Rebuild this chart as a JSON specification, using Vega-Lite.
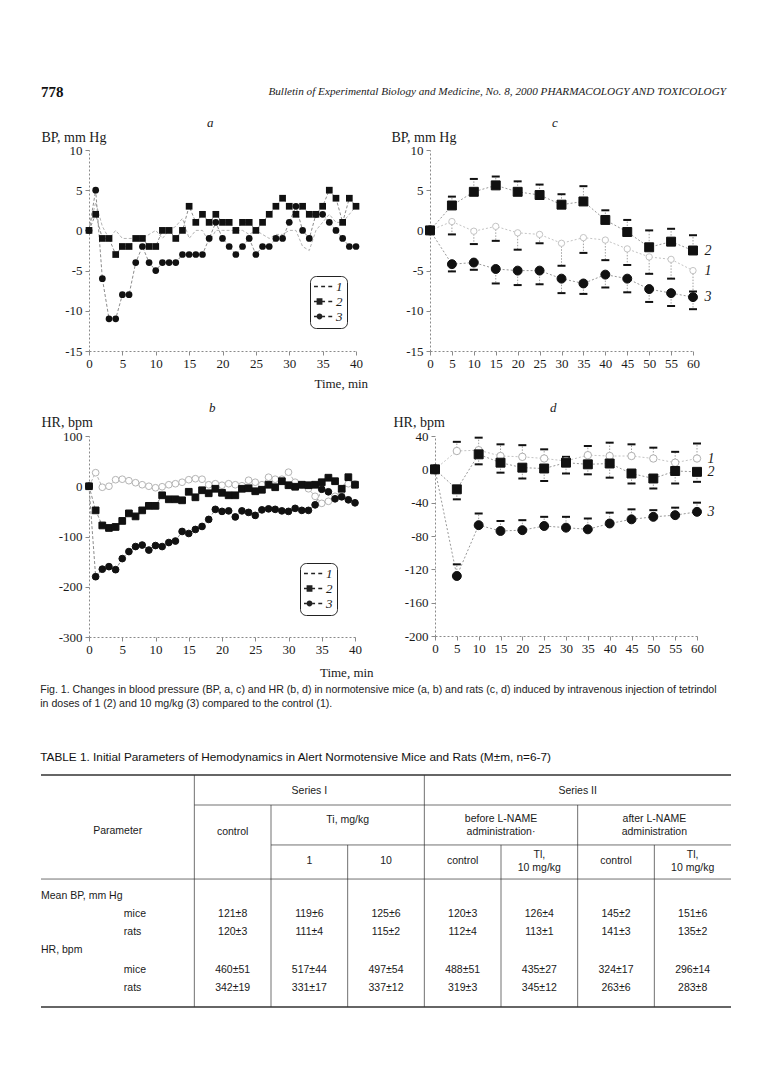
{
"$schema": "https://vega.github.io/schema/vega-lite/v6.json",
"background": "white",
"padding": {"left": 40, "top": 85, "right": 5, "bottom": 5},
"config": {
 "view": {"stroke": null},
 "axis": {"labelFont": "Liberation Serif", "labelFontSize": 13, "labelColor": "#1a1a1a", "domainColor": "#8a8a8a", "domainDash": [2, 2], "tickColor": "#8a8a8a", "tickSize": 4, "labelPadding": 2, "grid": false, "titleFont": "Liberation Serif", "titleFontSize": 14, "titleFontWeight": "normal", "titleColor": "#1a1a1a"},
 "axisY": {"titleAngle": 0, "titleAlign": "left", "titleBaseline": "alphabetic", "labelPadding": 3, "labelExpr": "replace(datum.label, '\u2212', '-')"},
 "axisX": {"labelFlush": false, "labelOverlap": false},
 "title": {"font": "Liberation Serif", "fontWeight": "normal", "color": "#1a1a1a"}
},
"datasets": {
 "a": [
  {"t":0,"s":"1","v":0},{"t":1,"s":"1","v":3.5},{"t":2,"s":"1","v":0.5},{"t":3,"s":"1","v":-1},{"t":4,"s":"1","v":0},{"t":5,"s":"1","v":-1},{"t":6,"s":"1","v":-1},{"t":7,"s":"1","v":-1},{"t":8,"s":"1","v":-1},{"t":9,"s":"1","v":-0.5},{"t":10,"s":"1","v":0},{"t":11,"s":"1","v":-1},{"t":12,"s":"1","v":0},{"t":13,"s":"1","v":0.5},{"t":14,"s":"1","v":1.5},{"t":15,"s":"1","v":-1},{"t":16,"s":"1","v":0},{"t":17,"s":"1","v":0},{"t":18,"s":"1","v":-1.5},{"t":19,"s":"1","v":0},{"t":20,"s":"1","v":0},{"t":21,"s":"1","v":0},{"t":22,"s":"1","v":0},{"t":23,"s":"1","v":0},{"t":24,"s":"1","v":-0.5},{"t":25,"s":"1","v":0},{"t":26,"s":"1","v":-0.5},{"t":27,"s":"1","v":-1},{"t":28,"s":"1","v":-0.5},{"t":29,"s":"1","v":-0.5},{"t":30,"s":"1","v":0},{"t":31,"s":"1","v":0},{"t":32,"s":"1","v":-2},{"t":33,"s":"1","v":-2.5},{"t":34,"s":"1","v":0},{"t":35,"s":"1","v":1},{"t":36,"s":"1","v":2},{"t":37,"s":"1","v":1},{"t":38,"s":"1","v":1},{"t":39,"s":"1","v":2},{"t":40,"s":"1","v":3},
  {"t":0,"s":"2","v":0},{"t":1,"s":"2","v":2},{"t":2,"s":"2","v":-1},{"t":3,"s":"2","v":-1},{"t":4,"s":"2","v":-3},{"t":5,"s":"2","v":-2},{"t":6,"s":"2","v":-2},{"t":7,"s":"2","v":-1},{"t":8,"s":"2","v":-1},{"t":9,"s":"2","v":-2},{"t":10,"s":"2","v":-2},{"t":11,"s":"2","v":0},{"t":12,"s":"2","v":0},{"t":13,"s":"2","v":-1},{"t":14,"s":"2","v":0},{"t":15,"s":"2","v":3},{"t":16,"s":"2","v":1},{"t":17,"s":"2","v":2},{"t":18,"s":"2","v":1},{"t":19,"s":"2","v":2},{"t":20,"s":"2","v":1},{"t":21,"s":"2","v":1},{"t":22,"s":"2","v":0},{"t":23,"s":"2","v":1},{"t":24,"s":"2","v":1},{"t":25,"s":"2","v":0},{"t":26,"s":"2","v":1},{"t":27,"s":"2","v":2},{"t":28,"s":"2","v":3},{"t":29,"s":"2","v":4},{"t":30,"s":"2","v":3},{"t":31,"s":"2","v":2},{"t":32,"s":"2","v":3},{"t":33,"s":"2","v":2},{"t":34,"s":"2","v":2},{"t":35,"s":"2","v":3},{"t":36,"s":"2","v":5},{"t":37,"s":"2","v":4},{"t":38,"s":"2","v":1},{"t":39,"s":"2","v":4},{"t":40,"s":"2","v":3},
  {"t":0,"s":"3","v":0},{"t":1,"s":"3","v":5},{"t":2,"s":"3","v":-6},{"t":3,"s":"3","v":-11},{"t":4,"s":"3","v":-11},{"t":5,"s":"3","v":-8},{"t":6,"s":"3","v":-8},{"t":7,"s":"3","v":-4},{"t":8,"s":"3","v":-2},{"t":9,"s":"3","v":-4},{"t":10,"s":"3","v":-5},{"t":11,"s":"3","v":-4},{"t":12,"s":"3","v":-4},{"t":13,"s":"3","v":-4},{"t":14,"s":"3","v":-3},{"t":15,"s":"3","v":-3},{"t":16,"s":"3","v":-3},{"t":17,"s":"3","v":-3},{"t":18,"s":"3","v":-1},{"t":19,"s":"3","v":1},{"t":20,"s":"3","v":-1},{"t":21,"s":"3","v":-2},{"t":22,"s":"3","v":-3},{"t":23,"s":"3","v":-2},{"t":24,"s":"3","v":-1},{"t":25,"s":"3","v":-3},{"t":26,"s":"3","v":-2},{"t":27,"s":"3","v":-2},{"t":28,"s":"3","v":-1},{"t":29,"s":"3","v":-1},{"t":30,"s":"3","v":1},{"t":31,"s":"3","v":3},{"t":32,"s":"3","v":0},{"t":33,"s":"3","v":-1},{"t":34,"s":"3","v":2},{"t":35,"s":"3","v":2},{"t":36,"s":"3","v":1},{"t":37,"s":"3","v":0},{"t":38,"s":"3","v":-1},{"t":39,"s":"3","v":-2},{"t":40,"s":"3","v":-2}
 ],
 "b": [
  {"t":0,"s":"1","v":0},{"t":1,"s":"1","v":27},{"t":2,"s":"1","v":-2},{"t":3,"s":"1","v":0},{"t":4,"s":"1","v":13},{"t":5,"s":"1","v":14},{"t":6,"s":"1","v":11},{"t":7,"s":"1","v":7},{"t":8,"s":"1","v":3},{"t":9,"s":"1","v":0},{"t":10,"s":"1","v":-3},{"t":11,"s":"1","v":-1},{"t":12,"s":"1","v":3},{"t":13,"s":"1","v":5},{"t":14,"s":"1","v":8},{"t":15,"s":"1","v":13},{"t":16,"s":"1","v":15},{"t":17,"s":"1","v":14},{"t":18,"s":"1","v":3},{"t":19,"s":"1","v":5},{"t":20,"s":"1","v":2},{"t":21,"s":"1","v":5},{"t":22,"s":"1","v":3},{"t":23,"s":"1","v":1},{"t":24,"s":"1","v":12},{"t":25,"s":"1","v":8},{"t":26,"s":"1","v":3},{"t":27,"s":"1","v":18},{"t":28,"s":"1","v":14},{"t":29,"s":"1","v":14},{"t":30,"s":"1","v":28},{"t":31,"s":"1","v":8},{"t":32,"s":"1","v":2},{"t":33,"s":"1","v":-5},{"t":34,"s":"1","v":-20},{"t":35,"s":"1","v":-34},{"t":36,"s":"1","v":-30},{"t":37,"s":"1","v":-20},{"t":38,"s":"1","v":-10},{"t":39,"s":"1","v":5},{"t":40,"s":"1","v":5},
  {"t":0,"s":"2","v":0},{"t":1,"s":"2","v":-48},{"t":2,"s":"2","v":-78},{"t":3,"s":"2","v":-83},{"t":4,"s":"2","v":-81},{"t":5,"s":"2","v":-69},{"t":6,"s":"2","v":-54},{"t":7,"s":"2","v":-60},{"t":8,"s":"2","v":-48},{"t":9,"s":"2","v":-39},{"t":10,"s":"2","v":-39},{"t":11,"s":"2","v":-18},{"t":12,"s":"2","v":-26},{"t":13,"s":"2","v":-26},{"t":14,"s":"2","v":-28},{"t":15,"s":"2","v":-11},{"t":16,"s":"2","v":-22},{"t":17,"s":"2","v":-8},{"t":18,"s":"2","v":-14},{"t":19,"s":"2","v":-5},{"t":20,"s":"2","v":-13},{"t":21,"s":"2","v":-18},{"t":22,"s":"2","v":-18},{"t":23,"s":"2","v":-5},{"t":24,"s":"2","v":-4},{"t":25,"s":"2","v":-10},{"t":26,"s":"2","v":-7},{"t":27,"s":"2","v":3},{"t":28,"s":"2","v":-2},{"t":29,"s":"2","v":10},{"t":30,"s":"2","v":2},{"t":31,"s":"2","v":-1},{"t":32,"s":"2","v":3},{"t":33,"s":"2","v":2},{"t":34,"s":"2","v":3},{"t":35,"s":"2","v":8},{"t":36,"s":"2","v":17},{"t":37,"s":"2","v":10},{"t":38,"s":"2","v":-5},{"t":39,"s":"2","v":18},{"t":40,"s":"2","v":3},
  {"t":0,"s":"3","v":0},{"t":1,"s":"3","v":-180},{"t":2,"s":"3","v":-165},{"t":3,"s":"3","v":-160},{"t":4,"s":"3","v":-166},{"t":5,"s":"3","v":-144},{"t":6,"s":"3","v":-130},{"t":7,"s":"3","v":-120},{"t":8,"s":"3","v":-117},{"t":9,"s":"3","v":-127},{"t":10,"s":"3","v":-118},{"t":11,"s":"3","v":-120},{"t":12,"s":"3","v":-112},{"t":13,"s":"3","v":-109},{"t":14,"s":"3","v":-90},{"t":15,"s":"3","v":-94},{"t":16,"s":"3","v":-86},{"t":17,"s":"3","v":-80},{"t":18,"s":"3","v":-66},{"t":19,"s":"3","v":-46},{"t":20,"s":"3","v":-50},{"t":21,"s":"3","v":-49},{"t":22,"s":"3","v":-61},{"t":23,"s":"3","v":-49},{"t":24,"s":"3","v":-52},{"t":25,"s":"3","v":-58},{"t":26,"s":"3","v":-47},{"t":27,"s":"3","v":-45},{"t":28,"s":"3","v":-46},{"t":29,"s":"3","v":-49},{"t":30,"s":"3","v":-50},{"t":31,"s":"3","v":-44},{"t":32,"s":"3","v":-48},{"t":33,"s":"3","v":-48},{"t":34,"s":"3","v":-37},{"t":35,"s":"3","v":-6},{"t":36,"s":"3","v":-11},{"t":37,"s":"3","v":-25},{"t":38,"s":"3","v":-21},{"t":39,"s":"3","v":-27},{"t":40,"s":"3","v":-33}
 ],
 "c": [
  {"t":0,"s":"1","v":0},{"t":5,"s":"1","v":1.1,"cap":-0.5},{"t":10,"s":"1","v":-0.1,"cap":-1.7},{"t":15,"s":"1","v":0.5,"cap":-1.3},{"t":20,"s":"1","v":-0.3,"cap":-2.4},{"t":25,"s":"1","v":-0.5,"cap":-1.6},{"t":30,"s":"1","v":-1.6,"cap":-4.4},{"t":35,"s":"1","v":-0.9,"cap":-2.8},{"t":40,"s":"1","v":-1.2,"cap":-3.7},{"t":45,"s":"1","v":-2.3,"cap":-4.3},{"t":50,"s":"1","v":-3.3,"cap":-5.4},{"t":55,"s":"1","v":-3.6,"cap":-6.0},{"t":60,"s":"1","v":-5.0,"cap":-7.6},
  {"t":0,"s":"2","v":0},{"t":5,"s":"2","v":3.1,"cap":4.2},{"t":10,"s":"2","v":4.8,"cap":6.4},{"t":15,"s":"2","v":5.6,"cap":6.7},{"t":20,"s":"2","v":4.8,"cap":6.1},{"t":25,"s":"2","v":4.4,"cap":5.7},{"t":30,"s":"2","v":3.2,"cap":4.5},{"t":35,"s":"2","v":3.6,"cap":5.5},{"t":40,"s":"2","v":1.3,"cap":2.5},{"t":45,"s":"2","v":-0.2,"cap":1.3},{"t":50,"s":"2","v":-2.1,"cap":0.0},{"t":55,"s":"2","v":-1.4,"cap":0.2},{"t":60,"s":"2","v":-2.5,"cap":-0.6},
  {"t":0,"s":"3","v":0},{"t":5,"s":"3","v":-4.2,"cap":-5.1},{"t":10,"s":"3","v":-4.0,"cap":-4.9},{"t":15,"s":"3","v":-4.8,"cap":-6.6},{"t":20,"s":"3","v":-5.0,"cap":-6.8},{"t":25,"s":"3","v":-5.0,"cap":-6.7},{"t":30,"s":"3","v":-6.0,"cap":-7.8},{"t":35,"s":"3","v":-6.6,"cap":-7.9},{"t":40,"s":"3","v":-5.5,"cap":-7.1},{"t":45,"s":"3","v":-6.0,"cap":-7.7},{"t":50,"s":"3","v":-7.3,"cap":-8.9},{"t":55,"s":"3","v":-7.8,"cap":-9.4},{"t":60,"s":"3","v":-8.3,"cap":-9.8}
 ],
 "d": [
  {"t":0,"s":"1","v":0},{"t":5,"s":"1","v":22,"cap":33},{"t":10,"s":"1","v":23,"cap":38},{"t":15,"s":"1","v":16,"cap":30},{"t":20,"s":"1","v":15,"cap":29},{"t":25,"s":"1","v":13,"cap":24},{"t":30,"s":"1","v":10,"cap":15},{"t":35,"s":"1","v":17,"cap":28},{"t":40,"s":"1","v":16,"cap":32},{"t":45,"s":"1","v":16,"cap":30},{"t":50,"s":"1","v":13,"cap":26},{"t":55,"s":"1","v":8,"cap":21},{"t":60,"s":"1","v":13,"cap":31},
  {"t":0,"s":"2","v":0},{"t":5,"s":"2","v":-24,"cap":-36},{"t":10,"s":"2","v":18,"cap":6},{"t":15,"s":"2","v":8,"cap":-4},{"t":20,"s":"2","v":2,"cap":-11},{"t":25,"s":"2","v":1,"cap":-14},{"t":30,"s":"2","v":8,"cap":-5},{"t":35,"s":"2","v":6,"cap":-6},{"t":40,"s":"2","v":7,"cap":-10},{"t":45,"s":"2","v":-5,"cap":-17},{"t":50,"s":"2","v":-11,"cap":-23},{"t":55,"s":"2","v":-2,"cap":-17},{"t":60,"s":"2","v":-3,"cap":-15},
  {"t":0,"s":"3","v":0},{"t":5,"s":"3","v":-128,"cap":-114},{"t":10,"s":"3","v":-67,"cap":-53},{"t":15,"s":"3","v":-74,"cap":-62},{"t":20,"s":"3","v":-73,"cap":-61},{"t":25,"s":"3","v":-68,"cap":-57},{"t":30,"s":"3","v":-70,"cap":-57},{"t":35,"s":"3","v":-72,"cap":-59},{"t":40,"s":"3","v":-65,"cap":-52},{"t":45,"s":"3","v":-60,"cap":-48},{"t":50,"s":"3","v":-57,"cap":-49},{"t":55,"s":"3","v":-55,"cap":-46},{"t":60,"s":"3","v":-51,"cap":-40}
 ],
 "tabletext": [
  {"x":3.5,"y":0.87,"label":"Series I","kind":"c"},
  {"x":7,"y":0.87,"label":"Series II","kind":"c"},
  {"x":4,"y":2.45,"label":"Ti, mg/kg","kind":"c"},
  {"x":6,"y":2.4,"label":"before L-NAME","kind":"c"},
  {"x":6,"y":3.1,"label":"administration·","kind":"c"},
  {"x":8,"y":2.4,"label":"after L-NAME","kind":"c"},
  {"x":8,"y":3.1,"label":"administration","kind":"c"},
  {"x":1,"y":3.05,"label":"Parameter","kind":"c"},
  {"x":2.5,"y":3.1,"label":"control","kind":"c"},
  {"x":3.5,"y":4.67,"label":"1","kind":"c"},
  {"x":4.5,"y":4.67,"label":"10","kind":"c"},
  {"x":5.5,"y":4.67,"label":"control","kind":"c"},
  {"x":6.5,"y":4.35,"label":"Tl,","kind":"c"},
  {"x":6.5,"y":5.05,"label":"10 mg/kg","kind":"c"},
  {"x":7.5,"y":4.67,"label":"control","kind":"c"},
  {"x":8.5,"y":4.35,"label":"Tl,","kind":"c"},
  {"x":8.5,"y":5.05,"label":"10 mg/kg","kind":"c"},
  {"x":0,"y":6.58,"label":"Mean BP, mm Hg","kind":"l"},
  {"x":1.08,"y":7.55,"label":"mice","kind":"l"},
  {"x":1.08,"y":8.53,"label":"rats","kind":"l"},
  {"x":0,"y":9.51,"label":"HR, bpm","kind":"l"},
  {"x":1.08,"y":10.6,"label":"mice","kind":"l"},
  {"x":1.08,"y":11.58,"label":"rats","kind":"l"},
  {"x":2.5,"y":7.55,"label":"121±8","kind":"c"},{"x":3.5,"y":7.55,"label":"119±6","kind":"c"},{"x":4.5,"y":7.55,"label":"125±6","kind":"c"},{"x":5.5,"y":7.55,"label":"120±3","kind":"c"},{"x":6.5,"y":7.55,"label":"126±4","kind":"c"},{"x":7.5,"y":7.55,"label":"145±2","kind":"c"},{"x":8.5,"y":7.55,"label":"151±6","kind":"c"},
  {"x":2.5,"y":8.53,"label":"120±3","kind":"c"},{"x":3.5,"y":8.53,"label":"111±4","kind":"c"},{"x":4.5,"y":8.53,"label":"115±2","kind":"c"},{"x":5.5,"y":8.53,"label":"112±4","kind":"c"},{"x":6.5,"y":8.53,"label":"113±1","kind":"c"},{"x":7.5,"y":8.53,"label":"141±3","kind":"c"},{"x":8.5,"y":8.53,"label":"135±2","kind":"c"},
  {"x":2.5,"y":10.6,"label":"460±51","kind":"c"},{"x":3.5,"y":10.6,"label":"517±44","kind":"c"},{"x":4.5,"y":10.6,"label":"497±54","kind":"c"},{"x":5.5,"y":10.6,"label":"488±51","kind":"c"},{"x":6.5,"y":10.6,"label":"435±27","kind":"c"},{"x":7.5,"y":10.6,"label":"324±17","kind":"c"},{"x":8.5,"y":10.6,"label":"296±14","kind":"c"},
  {"x":2.5,"y":11.58,"label":"342±19","kind":"c"},{"x":3.5,"y":11.58,"label":"331±17","kind":"c"},{"x":4.5,"y":11.58,"label":"337±12","kind":"c"},{"x":5.5,"y":11.58,"label":"319±3","kind":"c"},{"x":6.5,"y":11.58,"label":"345±12","kind":"c"},{"x":7.5,"y":11.58,"label":"263±6","kind":"c"},{"x":8.5,"y":11.58,"label":"283±8","kind":"c"}
 ],
 "tablerules": [
  {"x":0,"x2":9,"y":0,"y2":0},
  {"x":2,"x2":9,"y":1.63,"y2":1.63},
  {"x":3,"x2":9,"y":3.8,"y2":3.8},
  {"x":0,"x2":9,"y":5.65,"y2":5.65},
  {"x":0,"x2":9,"y":12.6,"y2":12.6},
  {"x":2,"x2":2,"y":0,"y2":12.6},
  {"x":3,"x2":3,"y":1.63,"y2":12.6},
  {"x":4,"x2":4,"y":3.8,"y2":12.6},
  {"x":5,"x2":5,"y":0,"y2":12.6},
  {"x":6,"x2":6,"y":3.8,"y2":12.6},
  {"x":7,"x2":7,"y":1.63,"y2":12.6},
  {"x":8,"x2":8,"y":3.8,"y2":12.6}
 ]
},
"spacing": 4,
"vconcat": [
 {
  "spacing": 17,
  "vconcat": [
   {
    "width": 690, "height": 14,
    "data": {"values": [{"side": "left", "txt": "778"}, {"side": "right", "txt": "Bulletin of Experimental Biology and Medicine, No. 8, 2000 PHARMACOLOGY AND TOXICOLOGY"}]},
    "encoding": {"x": {"field": "side", "type": "nominal", "scale": {"type": "point", "domain": ["left", "right"], "padding": 0}, "axis": null}, "text": {"field": "txt"}},
    "layer": [
     {"transform": [{"filter": "datum.side == 'left'"}], "mark": {"type": "text", "align": "left", "xOffset": -48, "font": "Liberation Serif", "fontWeight": "bold", "fontSize": 15, "color": "#111"}},
     {"transform": [{"filter": "datum.side == 'right'"}], "mark": {"type": "text", "align": "right", "xOffset": -53, "font": "Liberation Serif", "fontStyle": "italic", "fontSize": 11.2, "color": "#222"}}
    ]
   },
   {
    "spacing": 11,
    "vconcat": [
     {
      "resolve": {"scale": {"shape": "independent", "color": "independent"}, "legend": {"shape": "independent", "color": "independent"}},
      "hconcat": [
       {
        "width": 267, "height": 201,
        "title": {"text": "a", "anchor": "start", "frame": "group", "dx": 118, "fontStyle": "italic", "fontSize": 13, "offset": 0},
        "data": {"name": "a"},
        "encoding": {
         "x": {"field": "t", "type": "quantitative", "scale": {"domain": [0, 40], "nice": false}, "axis": {"values": [0,5,10,15,20,25,30,35,40], "title": null}},
         "y": {"field": "v", "type": "quantitative", "scale": {"domain": [-15, 10], "nice": false}, "axis": {"values": [-15,-10,-5,0,5,10], "title": "BP, mm Hg", "titleX": -48, "titleY": -9}}
        },
        "layer": [
         {"mark": {"type": "line", "strokeDash": [3, 2], "strokeWidth": 1}, "encoding": {"detail": {"field": "s"}, "color": {"condition": {"test": "datum.s == '1'", "value": "#b4b4b4"}, "value": "#8c8c8c"}}},
         {"transform": [{"filter": "datum.s != '1'"}], "mark": {"type": "point", "filled": true, "size": 45, "opacity": 1, "color": "#111"},
          "encoding": {"shape": {"condition": {"test": "datum.s == '2'", "value": "square"}, "value": "circle"}}},
         {"transform": [{"filter": "false"}], "mark": {"type": "point", "filled": true, "size": 169, "opacity": 1, "color": "#222"},
          "encoding": {"shape": {"field": "s", "type": "nominal", "scale": {"domain": ["1","2","3"], "range": ["M-1,-0.1H-0.4V0.1H-1ZM0.1,-0.1H0.7V0.1H0.1ZM1.2,-0.1H1.8V0.1H1.2Z", "M-1,-0.1H-0.6V0.1H-1ZM-0.6,-0.5H0.3V0.5H-0.6ZM0.3,-0.1H0.7V0.1H0.3ZM1.2,-0.1H1.8V0.1H1.2Z", "M-1,-0.1H-0.6V0.1H-1ZM-0.6,0A0.45,0.45 0 1,0 0.3,0A0.45,0.45 0 1,0 -0.6,0ZM0.3,-0.1H0.7V0.1H0.3ZM1.2,-0.1H1.8V0.1H1.2Z"]},
           "legend": {"orient": "none", "legendX": 221, "legendY": 126, "title": null, "strokeColor": "#222", "fillColor": "#fff", "cornerRadius": 6, "padding": 4, "labelFont": "Liberation Serif", "labelFontStyle": "italic", "labelFontSize": 13, "labelColor": "#1a1a1a", "symbolSize": 169, "symbolOpacity": 1, "symbolFillColor": "#222", "symbolStrokeWidth": 0, "rowPadding": 1, "labelOffset": 9}}}
         }
        ]
       },
       {
        "width": 263, "height": 201,
        "title": {"text": "c", "anchor": "start", "frame": "group", "dx": 122, "fontStyle": "italic", "fontSize": 13, "offset": 0},
        "data": {"name": "c"},
        "encoding": {
         "x": {"field": "t", "type": "quantitative", "scale": {"domain": [0, 60], "nice": false}, "axis": {"values": [0,5,10,15,20,25,30,35,40,45,50,55,60], "title": null}},
         "y": {"field": "v", "type": "quantitative", "scale": {"domain": [-15, 10], "nice": false}, "axis": {"values": [-15,-10,-5,0,5,10], "title": "BP, mm Hg", "titleX": -39, "titleY": -9}}
        },
        "layer": [
         {"mark": {"type": "line", "strokeDash": [2, 2], "strokeWidth": 1}, "encoding": {"detail": {"field": "s"}, "color": {"condition": {"test": "datum.s == '1'", "value": "#c4c4c4"}, "value": "#999999"}}},
         {"transform": [{"filter": "isValid(datum.cap)"}], "mark": {"type": "rule", "color": "#a0a0a0", "strokeDash": [1.5, 1.5], "strokeWidth": 1}, "encoding": {"y2": {"field": "cap"}}},
         {"transform": [{"filter": "isValid(datum.cap)"}], "mark": {"type": "tick", "orient": "horizontal", "size": 8, "thickness": 2, "color": "#111", "opacity": 1},
          "encoding": {"y": {"field": "cap", "type": "quantitative", "scale": {"domain": [-15, 10], "nice": false}, "axis": {"values": [-15,-10,-5,0,5,10], "title": "BP, mm Hg", "titleX": -39, "titleY": -9}}}},
         {"mark": {"type": "point", "filled": true, "opacity": 1, "strokeWidth": 1},
          "encoding": {
           "shape": {"condition": {"test": "datum.s == '2'", "value": "square"}, "value": "circle"},
           "fill": {"condition": {"test": "datum.s == '1'", "value": "#ffffff"}, "value": "#111"},
           "stroke": {"condition": {"test": "datum.s == '1'", "value": "#c4c4c4"}, "value": "#111"},
           "size": {"condition": {"test": "datum.s == '1'", "value": 40}, "value": 80}
          }},
         {"transform": [{"filter": "datum.t == 60"}], "mark": {"type": "text", "align": "center", "dx": 15, "font": "Liberation Serif", "fontStyle": "italic", "fontSize": 14, "color": "#1a1a1a"}, "encoding": {"text": {"field": "s"}}}
        ]
       }
      ],
      "spacing": 28,
      "title": {"text": "Time, min", "orient": "bottom", "anchor": "middle", "dx": -35, "offset": 8, "fontSize": 13}
     },
     {
      "resolve": {"scale": {"shape": "independent", "color": "independent"}, "legend": {"shape": "independent", "color": "independent"}},
      "hconcat": [
       {
        "width": 266, "height": 201,
        "title": {"text": "b", "anchor": "start", "frame": "group", "dx": 120, "fontStyle": "italic", "fontSize": 13, "offset": 0},
        "data": {"name": "b"},
        "encoding": {
         "x": {"field": "t", "type": "quantitative", "scale": {"domain": [0, 40], "nice": false}, "axis": {"values": [0,5,10,15,20,25,30,35,40], "title": null}},
         "y": {"field": "v", "type": "quantitative", "scale": {"domain": [-300, 100], "nice": false}, "axis": {"values": [-300,-200,-100,0,100], "title": "HR, bpm", "titleX": -48, "titleY": -10}}
        },
        "layer": [
         {"mark": {"type": "line", "strokeDash": [3, 2], "strokeWidth": 1}, "encoding": {"detail": {"field": "s"}, "color": {"condition": {"test": "datum.s == '1'", "value": "#b4b4b4"}, "value": "#8c8c8c"}}},
         {"mark": {"type": "point", "filled": true, "size": 45, "opacity": 1, "strokeWidth": 1},
          "encoding": {
           "fill": {"condition": {"test": "datum.s == '1'", "value": "#ffffff"}, "value": "#111"},
           "stroke": {"condition": {"test": "datum.s == '1'", "value": "#b4b4b4"}, "value": "#111"},
           "shape": {"condition": {"test": "datum.s == '2'", "value": "square"}, "value": "circle"}
          }
         },
         {"transform": [{"filter": "false"}], "mark": {"type": "point", "filled": true, "size": 169, "opacity": 1, "color": "#222"},
          "encoding": {"shape": {"field": "s", "type": "nominal", "scale": {"domain": ["1","2","3"], "range": ["M-1,-0.1H-0.4V0.1H-1ZM0.1,-0.1H0.7V0.1H0.1ZM1.2,-0.1H1.8V0.1H1.2Z", "M-1,-0.1H-0.6V0.1H-1ZM-0.6,-0.5H0.3V0.5H-0.6ZM0.3,-0.1H0.7V0.1H0.3ZM1.2,-0.1H1.8V0.1H1.2Z", "M-1,-0.1H-0.6V0.1H-1ZM-0.6,0A0.45,0.45 0 1,0 0.3,0A0.45,0.45 0 1,0 -0.6,0ZM0.3,-0.1H0.7V0.1H0.3ZM1.2,-0.1H1.8V0.1H1.2Z"]},
           "legend": {"orient": "none", "legendX": 211, "legendY": 127, "title": null, "strokeColor": "#222", "fillColor": "#fff", "cornerRadius": 6, "padding": 4, "labelFont": "Liberation Serif", "labelFontStyle": "italic", "labelFontSize": 13, "labelColor": "#1a1a1a", "symbolSize": 169, "symbolOpacity": 1, "symbolFillColor": "#222", "symbolStrokeWidth": 0, "rowPadding": 1, "labelOffset": 9}}}
         }
        ]
       },
       {
        "width": 262, "height": 200,
        "title": {"text": "d", "anchor": "start", "frame": "group", "dx": 115, "fontStyle": "italic", "fontSize": 13, "offset": 0},
        "data": {"name": "d"},
        "encoding": {
         "x": {"field": "t", "type": "quantitative", "scale": {"domain": [0, 60], "nice": false}, "axis": {"values": [0,5,10,15,20,25,30,35,40,45,50,55,60], "title": null}},
         "y": {"field": "v", "type": "quantitative", "scale": {"domain": [-200, 40], "nice": false}, "axis": {"values": [-200,-160,-120,-80,-40,0,40], "title": "HR, bpm", "titleX": -42, "titleY": -10}}
        },
        "layer": [
         {"mark": {"type": "line", "strokeDash": [2, 2], "strokeWidth": 1}, "encoding": {"detail": {"field": "s"}, "color": {"condition": {"test": "datum.s == '1'", "value": "#c4c4c4"}, "value": "#999999"}}},
         {"transform": [{"filter": "isValid(datum.cap)"}], "mark": {"type": "rule", "color": "#a0a0a0", "strokeDash": [1.5, 1.5], "strokeWidth": 1}, "encoding": {"y2": {"field": "cap"}}},
         {"transform": [{"filter": "isValid(datum.cap)"}], "mark": {"type": "tick", "orient": "horizontal", "size": 8, "thickness": 2, "color": "#111", "opacity": 1},
          "encoding": {"y": {"field": "cap", "type": "quantitative", "scale": {"domain": [-200, 40], "nice": false}, "axis": {"values": [-200,-160,-120,-80,-40,0,40], "title": "HR, bpm", "titleX": -42, "titleY": -10}}}},
         {"mark": {"type": "point", "filled": true, "opacity": 1, "strokeWidth": 1},
          "encoding": {
           "shape": {"condition": {"test": "datum.s == '2'", "value": "square"}, "value": "circle"},
           "fill": {"condition": {"test": "datum.s == '1'", "value": "#ffffff"}, "value": "#111"},
           "stroke": {"condition": {"test": "datum.s == '1'", "value": "#b0b0b0"}, "value": "#111"},
           "size": {"condition": {"test": "datum.s == '1'", "value": 55}, "value": 80}
          }},
         {"transform": [{"filter": "datum.t == 60"}], "mark": {"type": "text", "align": "center", "dx": 14, "font": "Liberation Serif", "fontStyle": "italic", "fontSize": 14, "color": "#1a1a1a"}, "encoding": {"text": {"field": "s"}}}
        ]
       }
      ],
      "spacing": 31,
      "title": {"text": "Time, min", "orient": "bottom", "anchor": "middle", "dx": -31, "offset": 11, "fontSize": 13}
     }
    ]
   }
  ]
 },
 {
  "width": 690, "height": 232,
  "title": {
   "text": ["Fig. 1. Changes in blood pressure (BP, a, c) and HR (b, d) in normotensive mice (a, b) and rats (c, d) induced by intravenous injection of tetrindol", "in doses of 1 (2) and 10 mg/kg (3) compared to the control (1)."],
   "subtitle": "TABLE 1. Initial Parameters of Hemodynamics in Alert Normotensive Mice and Rats (M±m, n=6-7)",
   "anchor": "start", "frame": "bounds", "font": "Liberation Sans", "fontSize": 10.6, "fontWeight": "normal", "lineHeight": 14, "color": "#222",
   "subtitleFont": "Liberation Sans", "subtitleFontSize": 11.8, "subtitleColor": "#111", "subtitlePadding": 43, "offset": 10
  },
  "encoding": {
   "x": {"field": "x", "type": "quantitative", "scale": {"domain": [0, 9], "nice": false, "zero": false}, "axis": null},
   "y": {"field": "y", "type": "quantitative", "scale": {"domain": [0, 12.6], "nice": false, "reverse": true}, "axis": null}
  },
  "layer": [
   {"data": {"name": "tablerules"}, "mark": {"type": "rule", "color": "#333", "xOffset": -48, "x2Offset": -48},
    "encoding": {"x2": {"field": "x2"}, "y2": {"field": "y2"}, "strokeWidth": {"condition": {"test": "datum.y == datum.y2 && (datum.y == 0 || datum.y == 12.6)", "value": 1.6}, "value": 0.7}}},
   {"data": {"name": "tabletext"}, "transform": [{"filter": "datum.kind == 'c'"}], "mark": {"type": "text", "align": "center", "baseline": "middle", "xOffset": -48, "font": "Liberation Sans", "fontSize": 10.5, "color": "#1a1a1a"}, "encoding": {"text": {"field": "label"}}},
   {"data": {"name": "tabletext"}, "transform": [{"filter": "datum.kind == 'l'"}], "mark": {"type": "text", "align": "left", "baseline": "middle", "xOffset": -48, "font": "Liberation Sans", "fontSize": 10.5, "color": "#1a1a1a"}, "encoding": {"text": {"field": "label"}}}
  ]
 }
]
}
